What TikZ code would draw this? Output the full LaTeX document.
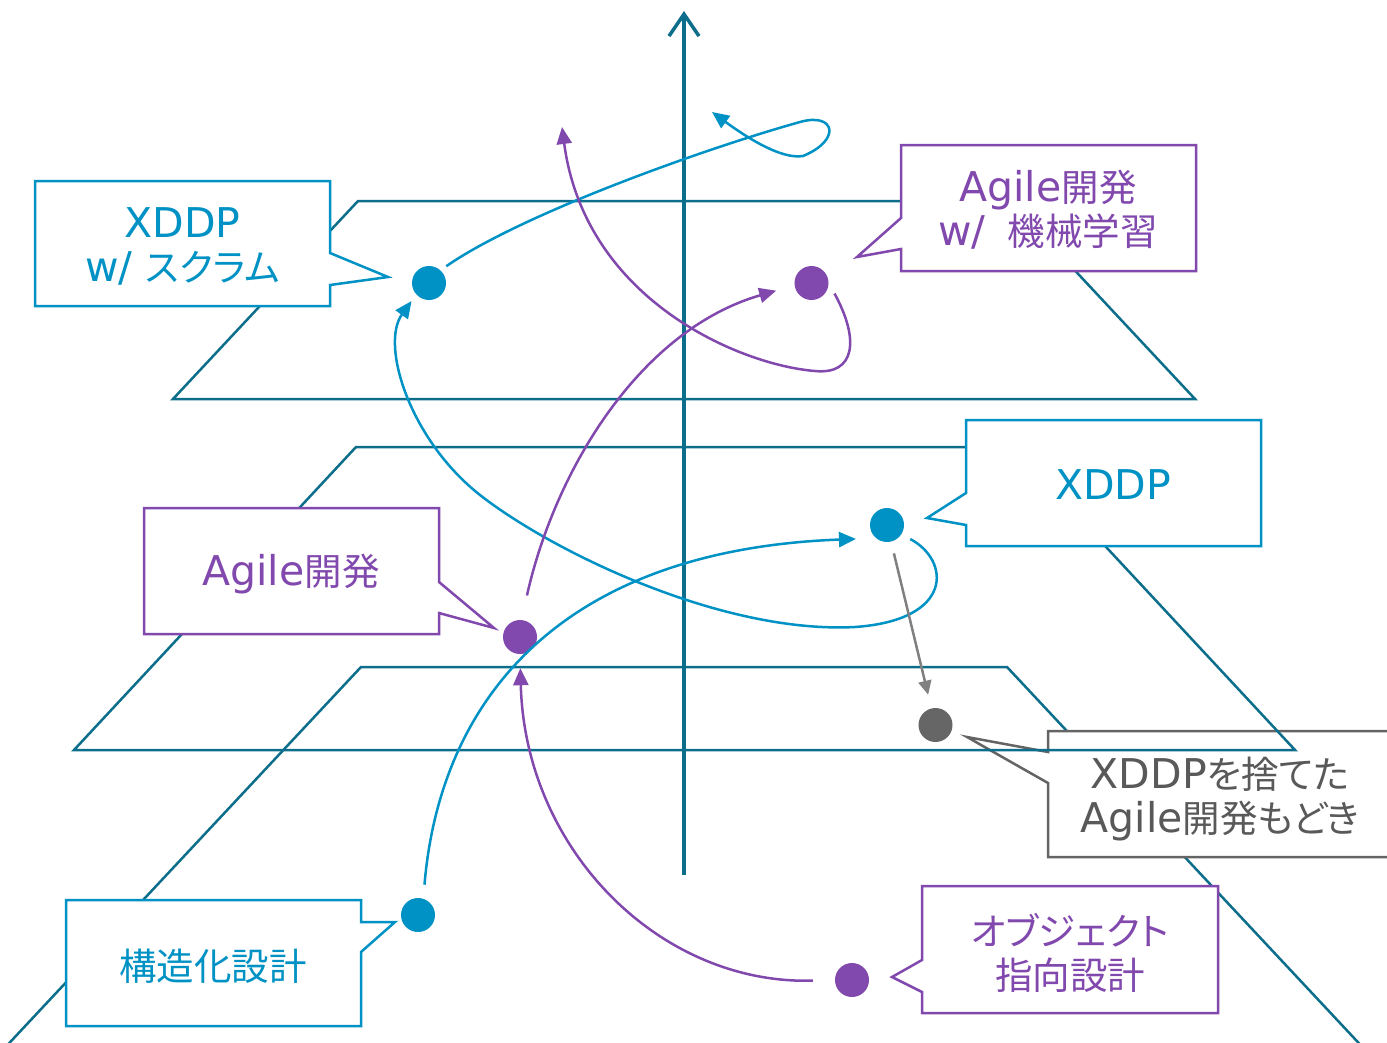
\documentclass[tikz,border=0pt]{standalone}
\usepackage{fontspec}
\usetikzlibrary{arrows.meta}

% Latin text in a wide sans, Japanese text in Noto Sans CJK with proportional kana
\newfontfamily\latfam{DejaVu Sans}
\newfontfamily\cjkfam[RawFeature=+palt]{Noto Sans CJK JP}
\newcommand\latx[1]{{\latfam\fontsize{41}{44}\selectfont #1}}
\newcommand\jpx[1]{{\cjkfam\fontsize{37.5}{44}\selectfont #1}}

\definecolor{planeteal}{RGB}{12,110,138}
\definecolor{cblue}{RGB}{0,146,196}
\definecolor{cpurple}{RGB}{129,72,173}
\definecolor{cgraydot}{RGB}{102,102,102}
\definecolor{cgrayline}{RGB}{128,128,128}
\definecolor{cgraybox}{RGB}{100,100,100}
\definecolor{cgraytext}{RGB}{89,89,89}

\begin{document}
\begin{tikzpicture}[x=1pt,y=-1pt,
  plane/.style={draw=planeteal, line width=2.5pt, line join=miter},
  callout/.style={fill=white, line width=2.5pt, line join=miter},
  boxtext/.style={align=center, inner sep=0pt, font=\fontsize{41}{44}\selectfont},
  pointdot/.style={circle, inner sep=0pt, minimum size=34pt},
  bcurve/.style={draw=cblue, line width=2.5pt, -{Triangle[length=17pt,width=15pt]}},
  pcurve/.style={draw=cpurple, line width=2.5pt, -{Triangle[length=17pt,width=15pt]}},
  gcurve/.style={draw=cgrayline, line width=2.5pt, -{Triangle[length=14pt,width=13pt]}}
]
\useasboundingbox (0,0) rectangle (1387,1042);
\begin{scope}
\clip (0,0) rectangle (1387,1042);

% upper and lower planes
\draw[plane] (358,201) -- (1010,201) -- (1195,399) -- (173,399) -- cycle;
\draw[plane] (-44,1100) -- (361,667) -- (1007,667) -- (1412,1100);

% label of the stripped-down variant (sits below the middle plane)
\draw[callout, draw=cgraybox] (1048,731) -- (1392,731) -- (1392,857) -- (1048,857)
  -- (1048,783) -- (967,737) -- (1048,752) -- cycle;

% middle plane
\draw[plane] (356,447) -- (1013,447) -- (1295,750) -- (74,750) -- cycle;

% vertical axis
\draw[draw=planeteal, line width=3.5pt, -{Straight Barb[length=22pt,width=30pt]}]
  (684,875) -- (684,11);

% callout frames
\draw[callout, draw=cblue] (35,181) -- (330,181) -- (330,253) -- (388,277)
  -- (330,285) -- (330,306) -- (35,306) -- cycle;
\draw[callout, draw=cpurple] (901,145) -- (1196,145) -- (1196,271) -- (901,271)
  -- (901,249) -- (857,257) -- (901,218) -- cycle;
\draw[callout, draw=cblue] (966,420) -- (1261,420) -- (1261,546) -- (966,546)
  -- (966,525) -- (927,518) -- (966,493) -- cycle;
\draw[callout, draw=cpurple] (144,508) -- (439,508) -- (439,582) -- (494,628)
  -- (439,613) -- (439,634) -- (144,634) -- cycle;
\draw[callout, draw=cblue] (66,900) -- (361,900) -- (361,922) -- (395,922)
  -- (361,952) -- (361,1026) -- (66,1026) -- cycle;
\draw[callout, draw=cpurple] (922,886) -- (1218,886) -- (1218,1013) -- (922,1013)
  -- (922,992) -- (892,977) -- (922,960) -- cycle;

% callout texts
\node[boxtext, text=cblue] (tScrum) at (182.5,246) {\latx{XDDP}\\\latx{w/ }\jpx{スクラム}};
\node[boxtext, text=cpurple] (tML) at (1048,210) {\latx{Agile}\jpx{開発}\\\latx{w/ }\hspace{9pt}\jpx{機械学習}};
\node[boxtext, text=cblue] (tXDDP) at (1113,485) {\latx{XDDP}};
\node[boxtext, text=cpurple] (tAgile) at (291,574) {\latx{Agile}\jpx{開発}};
\node[boxtext, text=cgraytext] (tMock) at (1220,799) {\latx{XDDP}\jpx{を捨てた}\\\latx{Agile}\jpx{開発もどき}};
\node[boxtext, text=cblue] (tStruct) at (213,966) {\jpx{構造化設計}};
\node[boxtext, text=cpurple] (tOO) at (1070,953) {\jpx{オブジェクト}\\\jpx{指向設計}};

% points
\node[pointdot, fill=cblue] (A) at (429,283) {};
\node[pointdot, fill=cpurple] (B) at (811.5,283) {};
\node[pointdot, fill=cblue] (C) at (887,525) {};
\node[pointdot, fill=cpurple] (D) at (520,637) {};
\node[pointdot, fill=cgraydot] (E) at (935.5,725) {};
\node[pointdot, fill=cblue] (F) at (418,915) {};
\node[pointdot, fill=cpurple] (G) at (852,980) {};
\coordinate (loopEnd) at (712,112);
\coordinate (riseEnd) at (562,127);

% blue transitions
\draw[bcurve, shorten <=14pt, shorten >=20pt]
  (F.72) .. controls (440,700) and (560,550) .. (C.230);
\draw[bcurve, shorten <=10pt, shorten >=8pt]
  (C.327) .. controls (950,560) and (955,620) .. (855,627)
  .. controls (720,634) and (550,550) .. (480,495)
  .. controls (410,440) and (380,345) .. (A.222);
\draw[bcurve, shorten <=7pt]
  (A.48) .. controls (520,215) and (700,150) .. (800,122)
  .. controls (835,112) and (842,140) .. (803,156)
  .. controls (780,160) and (742,134) .. (loopEnd);

% purple transitions
\draw[pcurve, shorten <=22pt, shorten >=14pt]
  (G.180) .. controls (660,985) and (525,850) .. (D.270);
\draw[pcurve, shorten <=25pt, shorten >=19pt]
  (D.85) .. controls (555,470) and (640,330) .. (B.188);
\draw[pcurve, shorten <=12pt]
  (B.0) .. controls (860,340) and (855,375) .. (815,371)
  .. controls (740,365) and (585,300) .. (riseEnd);

% gray transition
\draw[gcurve, shorten <=12pt, shorten >=14pt] (C) -- (E);
\end{scope}
\end{tikzpicture}
\end{document}
